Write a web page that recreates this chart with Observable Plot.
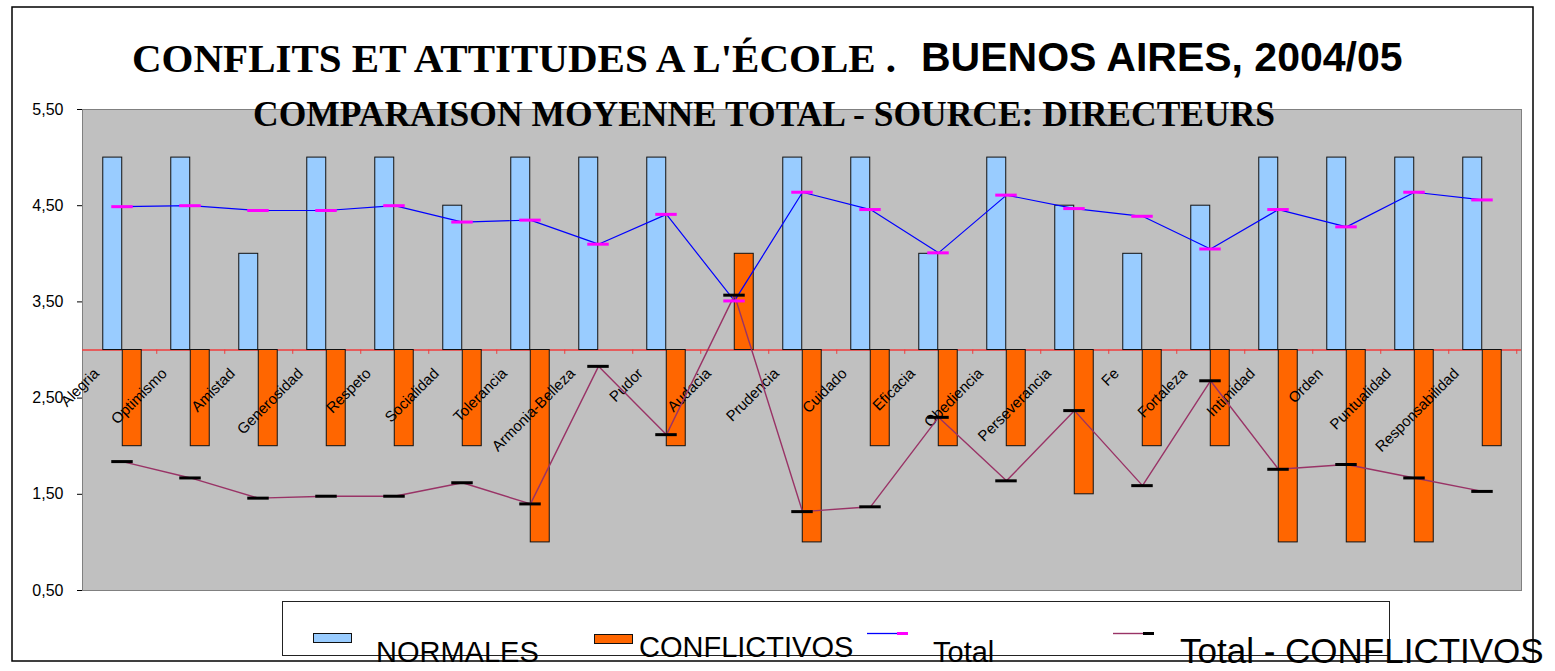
<!DOCTYPE html>
<html><head><meta charset="utf-8">
<script src="https://cdn.jsdelivr.net/npm/d3@7"></script>
<script src="https://cdn.jsdelivr.net/npm/@observablehq/plot@0.6"></script>
<style>
html,body{margin:0;padding:0;background:#fff;}
#wrap{position:relative;width:1555px;height:671px;overflow:hidden;background:#fff;}
#wrap > svg{position:absolute;left:0;top:0;}
</style></head><body><div id="wrap"></div>
<script>
const categories = ["Alegria","Optimismo","Amistad","Generosidad","Respeto","Socialidad","Tolerancia","Armonia-Belleza","Pudor","Audacia","Prudencia","Cuidado","Eficacia","Obediencia","Perseverancia","Fe","Fortaleza","Intimidad","Orden","Puntualidad","Responsabilidad"];
const normales = [5,5,4,5,5,4.5,5,5,5,3,5,5,4,5,4.5,4,4.5,5,5,5,5];
const conflictivos = [2,2,2,2,2,2,1,3,2,4,1,2,2,2,1.5,2,2,1,1,1,2];
const total = [4.49,4.50,4.45,4.45,4.50,4.33,4.35,4.10,4.41,3.51,4.64,4.46,4.01,4.61,4.47,4.39,4.05,4.46,4.28,4.64,4.56];
const totalConflictivos = [1.84,1.67,1.46,1.48,1.48,1.62,1.40,2.83,2.12,3.57,1.32,1.37,2.30,1.64,2.37,1.59,2.68,1.76,1.81,1.67,1.53];
const yTicks = [5.5,4.5,3.5,2.5,1.5,0.5];
const baseline = 3;
const titleMain = "CONFLITS ET ATTITUDES A L'ÉCOLE .";
const titleRest = "BUENOS AIRES, 2004/05";
const subtitle = "COMPARAISON MOYENNE TOTAL - SOURCE: DIRECTEURS";
const legendLabels = ["NORMALES","CONFLICTIVOS","Total","Total - CONFLICTIVOS"];

const rows = categories.map((cat, i) => ({cat, normal: normales[i], conf: conflictivos[i], total: total[i], tc: totalConflictivos[i]}));

const W = 1555, H = 671;
const mL = 82, mR = 34, mT = 109, mB = 81;
const bw = (W - mL - mR) / categories.length;
const half = bw / 2;
const barW = 19.5;
const dashHalf = 11;

const chart = Plot.plot({
  width: W, height: H,
  marginLeft: mL, marginRight: mR, marginTop: mT, marginBottom: mB,
  style: {fontFamily: "'Liberation Sans', Arial, sans-serif", fontSize: "16px", color: "#000", background: "transparent"},
  x: {type: "band", domain: categories, padding: 0, axis: null},
  y: {domain: [0.5, 5.5], ticks: yTicks, tickFormat: d => d.toFixed(2).replace(".", ","), tickSize: 5, tickPadding: 14, label: null, line: true},
  marks: [
    Plot.frame({fill: "#c0c0c0", stroke: "#808080"}),
    Plot.ruleY([baseline], {stroke: "#f03c3c", strokeWidth: 1.5}),
    Plot.ruleX(categories, {x: d => d, y1: baseline, y2: baseline - 0.045, stroke: "#f03c3c", strokeWidth: 1, dx: half}),
    Plot.barY(rows.filter(d => d.normal !== baseline), {x: "cat", y1: baseline, y2: "normal", fill: "#99ccff", stroke: "#111", strokeWidth: 1, insetLeft: half - barW, insetRight: half}),
    Plot.barY(rows.filter(d => d.conf !== baseline), {x: "cat", y1: baseline, y2: "conf", fill: "#ff6600", stroke: "#111", strokeWidth: 1, insetLeft: half, insetRight: half - barW}),
    Plot.text(rows, {x: "cat", y: baseline, text: "cat", rotate: -45, textAnchor: "end", dx: -26, dy: 21, fontSize: 15, fill: "#000"}),
    Plot.line(rows, {x: "cat", y: "total", stroke: "#0000ff", strokeWidth: 1.2}),
    Plot.line(rows, {x: "cat", y: "tc", stroke: "#993366", strokeWidth: 1.4}),
    Plot.tickY(rows, {x: "cat", y: "total", stroke: "#ff00ff", strokeWidth: 3, insetLeft: half - dashHalf, insetRight: half - dashHalf}),
    Plot.tickY(rows, {x: "cat", y: "tc", stroke: "#000", strokeWidth: 3, insetLeft: half - dashHalf, insetRight: half - dashHalf})
  ]
});

const wrap = document.getElementById("wrap");
wrap.appendChild(chart);

const ov = d3.create("svg").attr("width", W).attr("height", H)
  .style("position", "absolute").style("left", 0).style("top", 0)
  .style("overflow", "visible").style("pointer-events", "none");

ov.append("rect").attr("x", 12).attr("y", 7).attr("width", 1521).attr("height", 654)
  .attr("fill", "none").attr("stroke", "#000").attr("stroke-width", 1.5);

ov.append("text").attr("x", 132).attr("y", 72)
  .attr("font-family", "'Liberation Serif', 'Times New Roman', serif").attr("font-weight", "bold").attr("font-size", 41)
  .text(titleMain);
ov.append("text").attr("x", 921).attr("y", 71)
  .attr("font-family", "'Liberation Sans', Arial, sans-serif").attr("font-weight", "bold").attr("font-size", 41)
  .text(titleRest);
ov.append("text").attr("x", 253).attr("y", 126)
  .attr("font-family", "'Liberation Serif', 'Times New Roman', serif").attr("font-weight", "bold").attr("font-size", 35.5)
  .text(subtitle);

// legend
ov.append("rect").attr("x", 282.5).attr("y", 601.5).attr("width", 1107).attr("height", 54)
  .attr("fill", "#fff").attr("stroke", "#222").attr("stroke-width", 1);
ov.append("rect").attr("x", 313.5).attr("y", 633.5).attr("width", 38).attr("height", 9)
  .attr("fill", "#99ccff").attr("stroke", "#111");
ov.append("rect").attr("x", 594.5).attr("y", 634.5).attr("width", 38).attr("height", 9)
  .attr("fill", "#ff6600").attr("stroke", "#111");
ov.append("line").attr("x1", 867).attr("x2", 898).attr("y1", 633.5).attr("y2", 633.5).attr("stroke", "#0000ff").attr("stroke-width", 1.3);
ov.append("line").attr("x1", 897).attr("x2", 908).attr("y1", 633.5).attr("y2", 633.5).attr("stroke", "#ff00ff").attr("stroke-width", 3);
ov.append("line").attr("x1", 1113).attr("x2", 1143).attr("y1", 633.5).attr("y2", 633.5).attr("stroke", "#993366").attr("stroke-width", 1.4);
ov.append("line").attr("x1", 1143).attr("x2", 1154).attr("y1", 633.5).attr("y2", 633.5).attr("stroke", "#000").attr("stroke-width", 3);

const lg = [
  {t: legendLabels[0], x: 376, y: 662, s: 29},
  {t: legendLabels[1], x: 639, y: 657, s: 29},
  {t: legendLabels[2], x: 933, y: 662, s: 29},
  {t: legendLabels[3], x: 1180, y: 663, s: 35}
];
ov.selectAll("text.lg").data(lg).join("text").attr("class", "lg")
  .attr("x", d => d.x).attr("y", d => d.y).attr("font-size", d => d.s)
  .attr("font-family", "'Liberation Sans', Arial, sans-serif").attr("fill", "#000")
  .text(d => d.t);

wrap.appendChild(ov.node());
</script>
</body></html>
